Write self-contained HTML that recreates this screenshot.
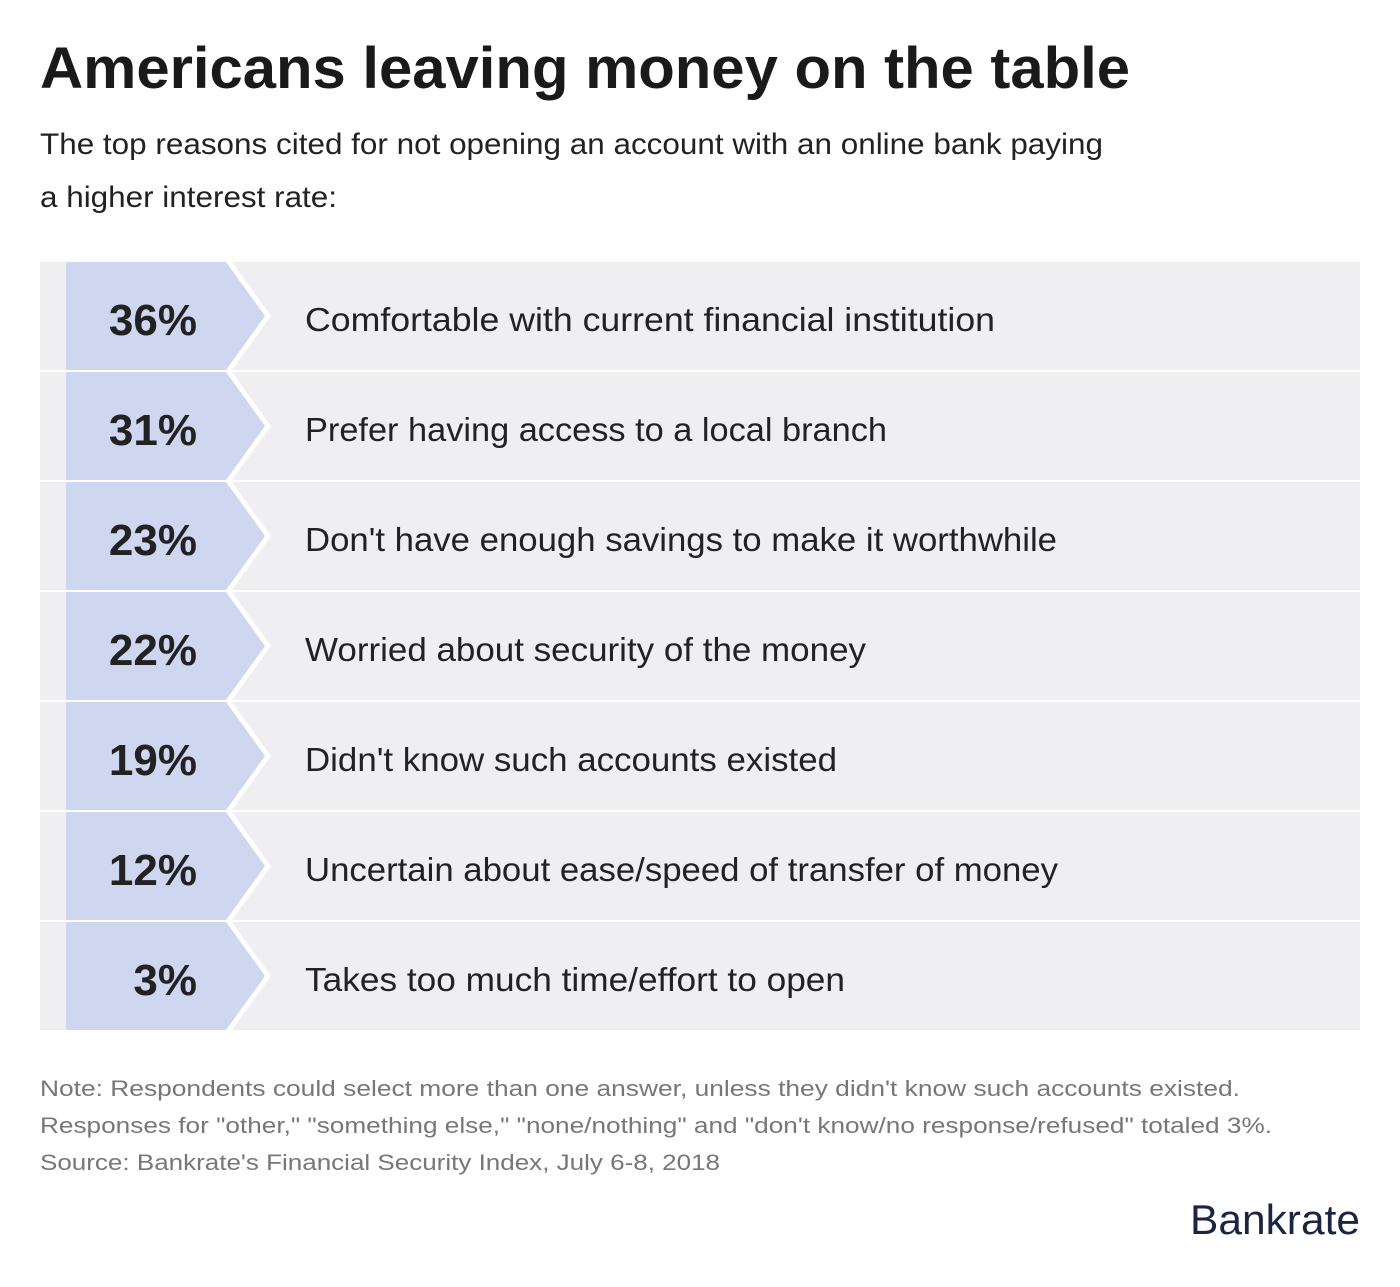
<!DOCTYPE html>
<html><head><meta charset="utf-8"><style>
body{margin:0;background:#fff;width:1400px;height:1282px;overflow:hidden;font-family:"Liberation Sans",sans-serif}
</style></head><body>
<svg width="1400" height="1282" xmlns="http://www.w3.org/2000/svg" font-family="Liberation Sans, sans-serif">
<text x="40" y="88" font-size="58" font-weight="bold" fill="#1a1a1a" textLength="1090" lengthAdjust="spacingAndGlyphs">Americans leaving money on the table</text>
<text x="40" y="154" font-size="30" fill="#222" textLength="1063" lengthAdjust="spacingAndGlyphs">The top reasons cited for not opening an account with an online bank paying</text>
<text x="40" y="207" font-size="30" fill="#222" textLength="297" lengthAdjust="spacingAndGlyphs">a higher interest rate:</text>
<g fill="#efeff2">
<rect x="40" y="262" width="1320" height="108"/>
<rect x="40" y="372" width="1320" height="108"/>
<rect x="40" y="482" width="1320" height="108"/>
<rect x="40" y="592" width="1320" height="108"/>
<rect x="40" y="702" width="1320" height="108"/>
<rect x="40" y="812" width="1320" height="108"/>
<rect x="40" y="922" width="1320" height="108"/>
</g>
<g fill="#fff">
<polygon points="66,262 232,262 271,316 232,370 66,370"/>
<polygon points="66,372 232,372 271,426 232,480 66,480"/>
<polygon points="66,482 232,482 271,536 232,590 66,590"/>
<polygon points="66,592 232,592 271,646 232,700 66,700"/>
<polygon points="66,702 232,702 271,756 232,810 66,810"/>
<polygon points="66,812 232,812 271,866 232,920 66,920"/>
<polygon points="66,922 232,922 271,976 232,1030 66,1030"/>
</g>
<g fill="#cfd6f0">
<polygon points="66,262 226,262 265,316 226,370 66,370"/>
<polygon points="66,372 226,372 265,426 226,480 66,480"/>
<polygon points="66,482 226,482 265,536 226,590 66,590"/>
<polygon points="66,592 226,592 265,646 226,700 66,700"/>
<polygon points="66,702 226,702 265,756 226,810 66,810"/>
<polygon points="66,812 226,812 265,866 226,920 66,920"/>
<polygon points="66,922 226,922 265,976 226,1030 66,1030"/>
</g>
<g font-size="44" font-weight="bold" fill="#222" text-anchor="end">
<text x="197" y="335">36%</text>
<text x="197" y="445">31%</text>
<text x="197" y="555">23%</text>
<text x="197" y="665">22%</text>
<text x="197" y="775">19%</text>
<text x="197" y="885">12%</text>
<text x="197" y="995">3%</text>
</g>
<g font-size="33" fill="#222" lengthAdjust="spacingAndGlyphs">
<text x="305" y="331" textLength="690" lengthAdjust="spacingAndGlyphs">Comfortable with current financial institution</text>
<text x="305" y="441" textLength="582" lengthAdjust="spacingAndGlyphs">Prefer having access to a local branch</text>
<text x="305" y="551" textLength="752" lengthAdjust="spacingAndGlyphs">Don't have enough savings to make it worthwhile</text>
<text x="305" y="661" textLength="561" lengthAdjust="spacingAndGlyphs">Worried about security of the money</text>
<text x="305" y="771" textLength="532" lengthAdjust="spacingAndGlyphs">Didn't know such accounts existed</text>
<text x="305" y="881" textLength="753" lengthAdjust="spacingAndGlyphs">Uncertain about ease/speed of transfer of money</text>
<text x="305" y="991" textLength="540" lengthAdjust="spacingAndGlyphs">Takes too much time/effort to open</text>
</g>
<g font-size="22" fill="#777">
<text x="40" y="1096" textLength="1200" lengthAdjust="spacingAndGlyphs">Note: Respondents could select more than one answer, unless they didn't know such accounts existed.</text>
<text x="40" y="1133" textLength="1232" lengthAdjust="spacingAndGlyphs">Responses for "other," "something else," "none/nothing" and "don't know/no response/refused" totaled 3%.</text>
<text x="40" y="1170" textLength="680" lengthAdjust="spacingAndGlyphs">Source: Bankrate's Financial Security Index, July 6-8, 2018</text>
</g>
<text x="1190" y="1234" font-size="42" fill="#1b2541" textLength="170" lengthAdjust="spacingAndGlyphs">Bankrate</text>
</svg>
</body></html>
